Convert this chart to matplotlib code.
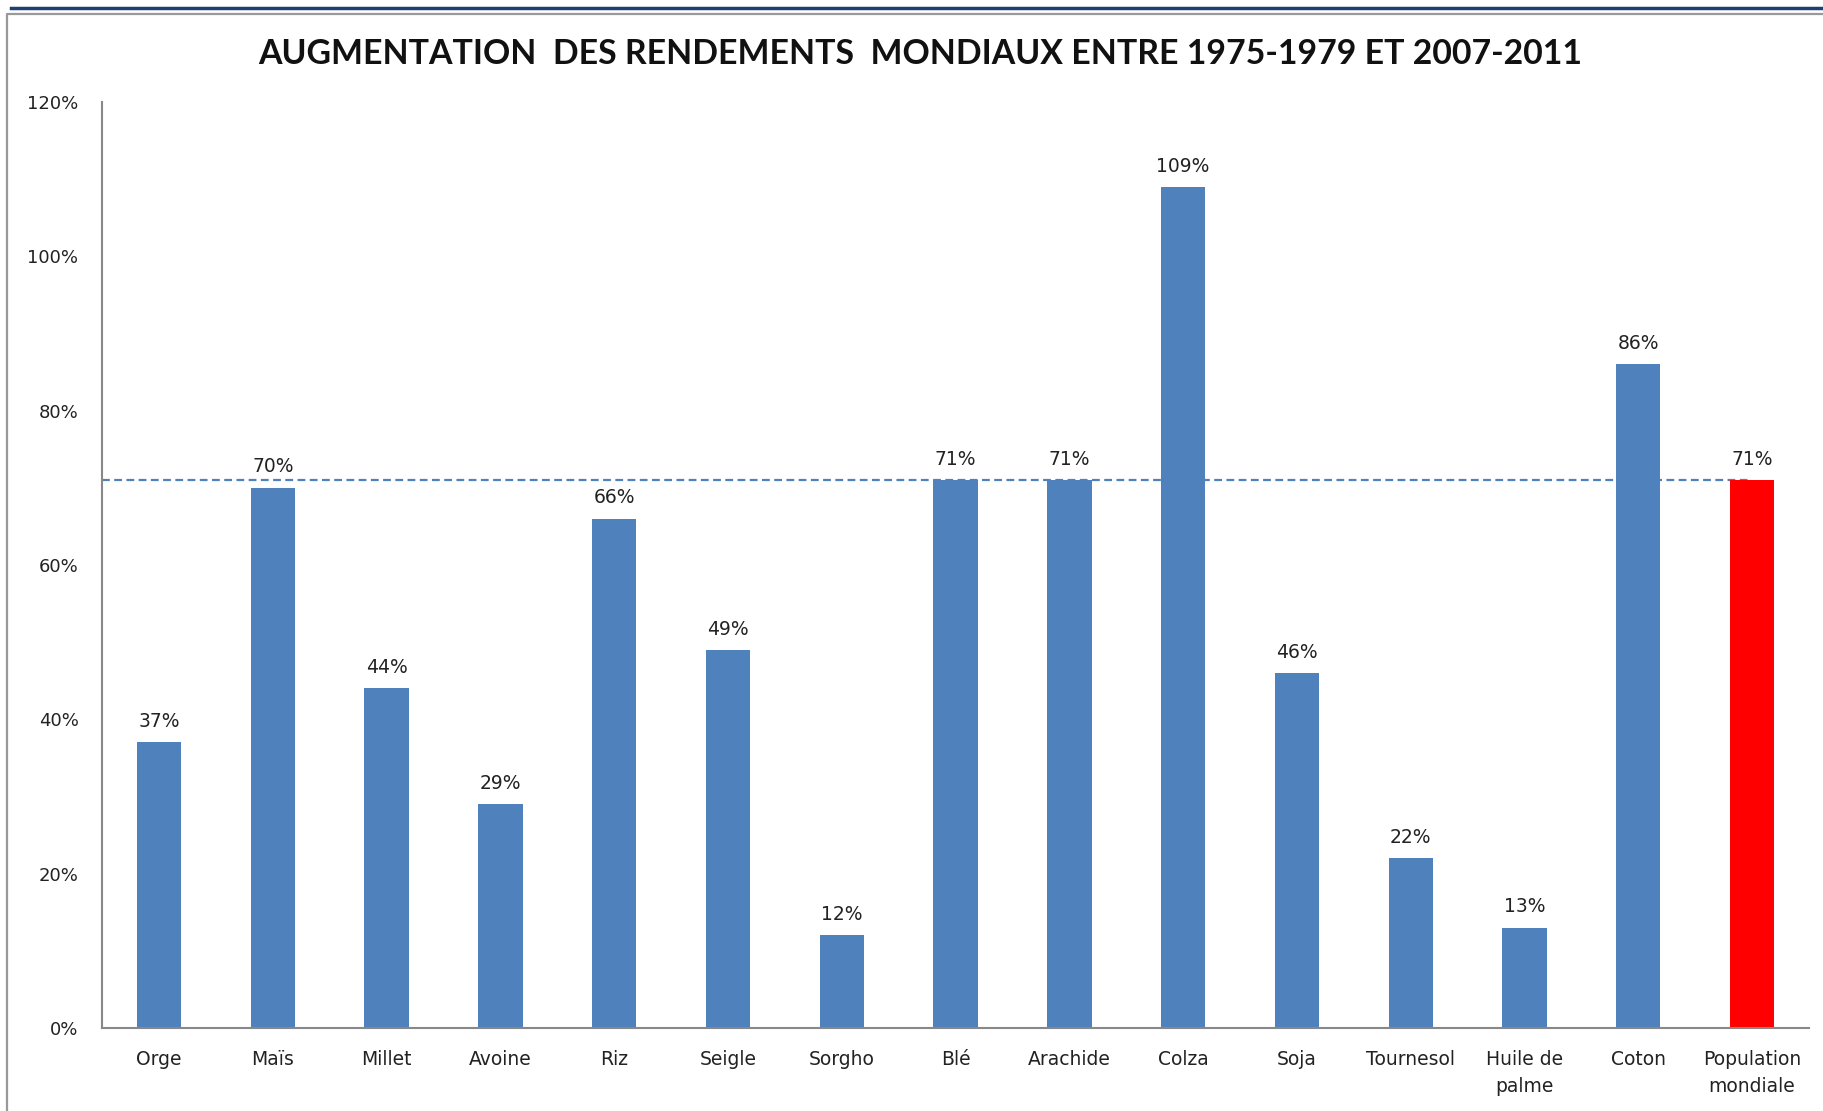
import matplotlib.pyplot as plt
from matplotlib.lines import Line2D

# --------------------------------
# RENDEMENTS MONDIAUX : 1975-1979 -> 2007-2011
# --------------------------------

cultures = ["Orge", "Maïs", "Millet", "Avoine", "Riz", "Seigle", "Sorgho", "Blé",
            "Arachide", "Colza", "Soja", "Tournesol", "Huile de\npalme", "Coton",
            "Population\nmondiale"]
hausse = [37, 70, 44, 29, 66, 49, 12, 71, 71, 109, 46, 22, 13, 86, 71]
population = 71
yticks = [0, 20, 40, 60, 80, 100, 120]

bleu = "#4F81BD"
rouge = "#FF0000"
couleurs = [bleu] * (len(cultures) - 1) + [rouge]

plt.rcParams["font.family"] = ["DejaVu Sans"]

fig = plt.figure(figsize=(18.23, 11.11), dpi=100)
ax = fig.add_axes([0.0560, 0.0747, 0.9363, 0.8335])

x = range(len(cultures))
bars = ax.bar(x, hausse, width=0.39, color=couleurs, zorder=2)

# ligne de reference : croissance de la population
ax.plot([-0.5, len(cultures) - 1], [population, population], color=bleu,
        linestyle=(0, (3.5, 2)), linewidth=1.6, zorder=1)

for b, v in zip(bars, hausse):
    ax.annotate(f"{v}%", (b.get_x() + b.get_width() / 2, v),
                xytext=(0, 15), textcoords="offset points",
                ha="center", va="center", fontsize=13.5, color="#222222")

ax.set_xlim(-0.5, len(cultures) - 0.5)
ax.set_ylim(0, 120)
ax.set_yticks(yticks)
ax.set_yticklabels([f"{t}%" for t in yticks], fontsize=13, color="#222222")
ax.set_xticks(list(x))
ax.set_xticklabels(cultures, fontsize=13.5, color="#222222", linespacing=1.5,
                   va="top")
ax.tick_params(axis="y", length=0, pad=17)
ax.tick_params(axis="x", length=0, pad=16)

for s in ["top", "right"]:
    ax.spines[s].set_visible(False)
for s in ["left", "bottom"]:
    ax.spines[s].set_color("#888888")
    ax.spines[s].set_linewidth(1.5)

fig.text(0.505, 0.951, "AUGMENTATION  DES RENDEMENTS  MONDIAUX ENTRE 1975-1979 ET 2007-2011",
         ha="center", va="center", fontsize=24.4, fontweight="bold", color="#111111",
         family=["Lato", "DejaVu Sans"])

# cadre de la diapositive
W, H = 1823, 1111
fig.add_artist(Line2D([11 / W, 1], [1 - 8 / H, 1 - 8 / H], color="#1F3F73",
                      linewidth=2.5, transform=fig.transFigure))
fig.add_artist(Line2D([7 / W, 7 / W, 1], [0, 1 - 14 / H, 1 - 14 / H], color="#999999",
                      linewidth=1.6, transform=fig.transFigure))

plt.savefig("out.png", dpi=100)
